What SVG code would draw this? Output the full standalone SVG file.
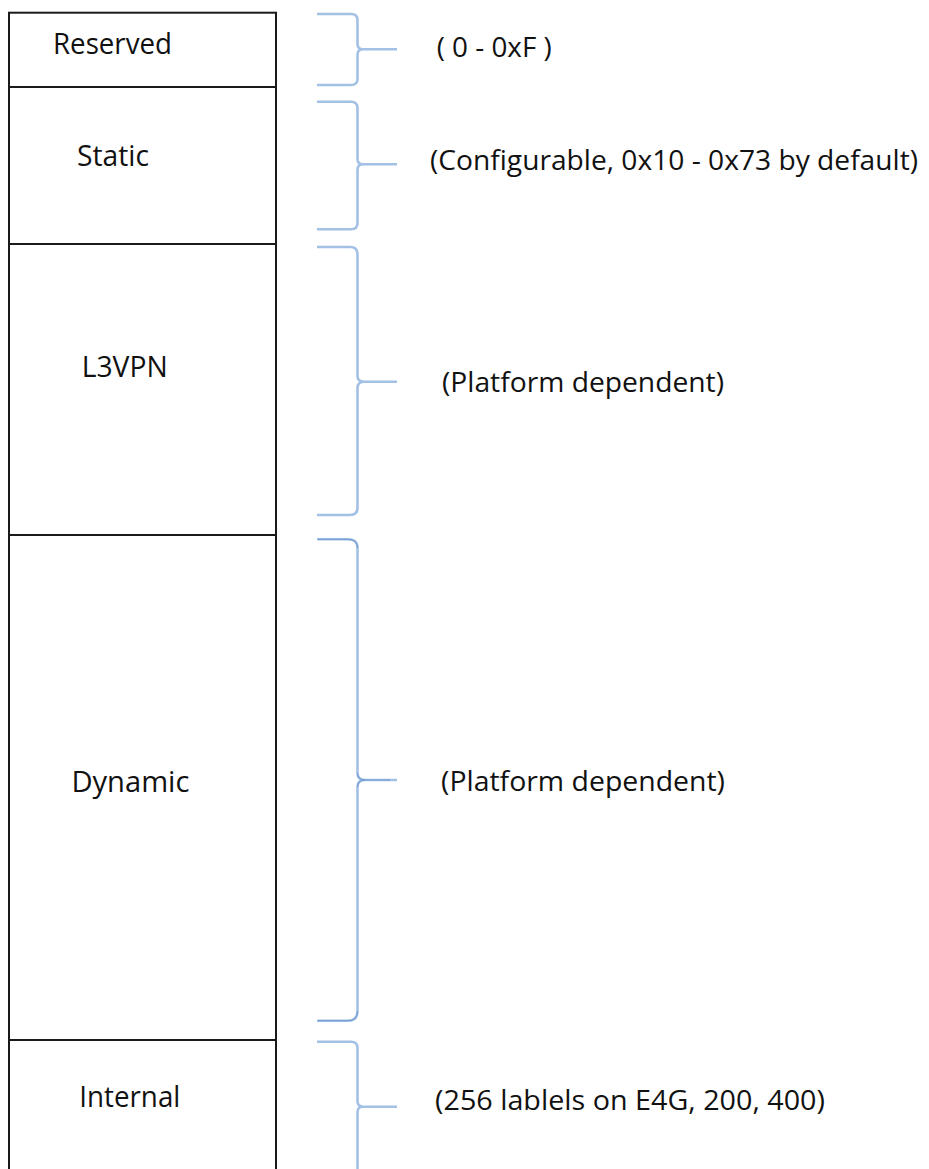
<svg xmlns="http://www.w3.org/2000/svg" width="929" height="1169" viewBox="0 0 929 1169">
  <style>
    .cell { fill: #ffffff; stroke: #1a1a1a; stroke-width: 2; }
    .lbl { font-family: "Open Sans", "Noto Sans", "Liberation Sans", sans-serif; font-size: 30px; fill: #111111; }
    .note { font-family: "Open Sans", "Noto Sans", "Liberation Sans", sans-serif; font-size: 26.5px; fill: #111111; }
    .brace { fill: none; stroke: #a3c0e5; stroke-width: 2.6; stroke-linecap: butt; stroke-linejoin: round; }
    .brace-core { fill: none; stroke: #6f99cf; stroke-width: 1; }
  </style>
  <rect width="929" height="1169" fill="#ffffff"/>

  <g id="reserved">
    <rect class="cell" x="9" y="12.7" width="267" height="74.3"/>
    <text class="lbl" x="53" y="54" textLength="119" lengthAdjust="spacingAndGlyphs">Reserved</text>
    <text class="note" x="436.7" y="57" textLength="115" lengthAdjust="spacingAndGlyphs">( 0 - 0xF )</text>
  </g>

  <g id="static">
    <rect class="cell" x="9" y="87" width="267" height="157"/>
    <text class="lbl" x="77" y="166" textLength="72" lengthAdjust="spacingAndGlyphs">Static</text>
    <text class="note" x="430" y="170" textLength="488" lengthAdjust="spacingAndGlyphs">(Configurable, 0x10 - 0x73 by default)</text>
  </g>

  <g id="l3vpn">
    <rect class="cell" x="9" y="244" width="267" height="291"/>
    <text class="lbl" x="81.7" y="377.3" textLength="86" lengthAdjust="spacingAndGlyphs">L3VPN</text>
    <text class="note" x="442" y="392" textLength="282" lengthAdjust="spacingAndGlyphs">(Platform dependent)</text>
  </g>

  <g id="dynamic">
    <rect class="cell" x="9" y="535" width="267" height="505"/>
    <text class="lbl" x="71.4" y="792" textLength="118" lengthAdjust="spacingAndGlyphs">Dynamic</text>
    <text class="note" x="441" y="791" textLength="284" lengthAdjust="spacingAndGlyphs">(Platform dependent)</text>
  </g>

  <g id="internal">
    <rect class="cell" x="9" y="1040" width="267" height="160"/>
    <text class="lbl" x="79.3" y="1106.7" textLength="101" lengthAdjust="spacingAndGlyphs">Internal</text>
    <text class="note" x="435" y="1110" textLength="390" lengthAdjust="spacingAndGlyphs">(256 lablels on E4G, 200, 400)</text>
  </g>

  <g id="connectors">
    <path class="brace" d="M317 14 L351 14 Q357.5 14 357.5 20 L357.5 44 Q357.5 49.3 363 49.3 L397 49.3 M363 49.3 Q357.5 49.3 357.5 55 L357.5 79 Q357.5 85 351 85 L317 85"/>
    <path class="brace" d="M317 101.7 L351 101.7 Q357.5 101.7 357.5 108 L357.5 159 Q357.5 164.3 363 164.3 L397 164.3 M363 164.3 Q357.5 164.3 357.5 170 L357.5 223 Q357.5 229.3 351 229.3 L317 229.3"/>
    <path class="brace" d="M317 247 L350 247 Q357.5 247 357.5 254 L357.5 376 Q357.5 381.7 364 381.7 L397 381.7 M364 381.7 Q357.5 381.7 357.5 388 L357.5 508 Q357.5 515 350 515 L317 515"/>
    <path class="brace" d="M317 539.3 L348 539.3 Q357.5 539.3 357.5 548 L357.5 773 Q357.5 780 365 780 L397 780 M365 780 Q357.5 780 357.5 787 L357.5 1011 Q357.5 1020.7 348 1020.7 L317 1020.7"/>
    <path class="brace" d="M317 1041.7 L351 1041.7 Q357.5 1041.7 357.5 1048 L357.5 1101 Q357.5 1106.7 363 1106.7 L397 1106.7 M363 1106.7 Q357.5 1106.7 357.5 1112 L357.5 1175"/>
    <path class="brace-core" d="M318 539.3 L348 539.3 Q357.5 539.3 357.5 548 M357.5 773 Q357.5 780 365 780 L390 780 M365 780 Q357.5 780 357.5 787 M357.5 1011 Q357.5 1020.7 348 1020.7 L318 1020.7"/>
  </g>
</svg>
